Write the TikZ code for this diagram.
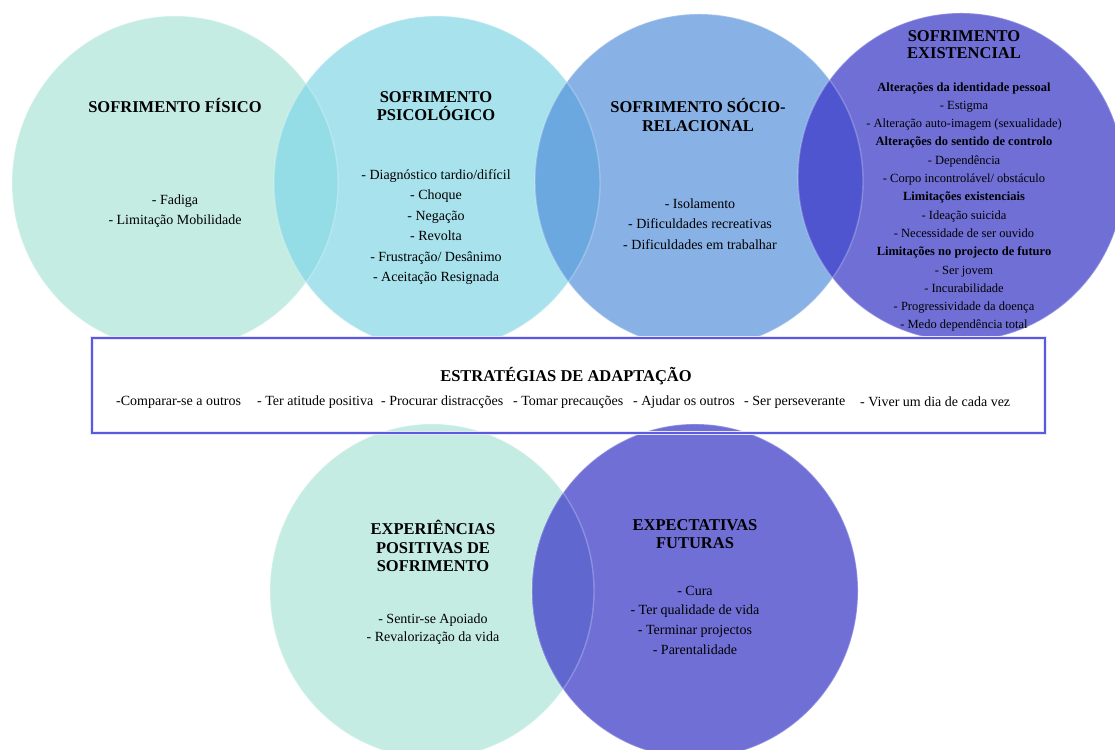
\documentclass[tikz,border=0pt]{standalone}
\usepackage{fontspec}
\setmainfont{Liberation Serif}
\usepackage{xcolor}
\usepackage{tikz}
\definecolor{mint}{RGB}{196,236,226}
\definecolor{aqua}{RGB}{168,226,236}
\definecolor{sky}{RGB}{136,177,230}
\definecolor{violet}{RGB}{111,111,214}
\definecolor{lensaqua}{RGB}{148,220,230}
\definecolor{lenssky}{RGB}{108,168,224}
\definecolor{lensviolet}{RGB}{79,85,207}
\definecolor{lensbottom}{RGB}{96,103,207}
\definecolor{boxline}{RGB}{90,90,225}

\tikzset{
  rim/.style={draw=white, draw opacity=0.25, line width=1.4pt},
  head/.style={font=\fontsize{16.5}{18.5}\selectfont\bfseries, align=center, inner sep=0pt},
  items/.style={font=\fontsize{14}{20.4}\selectfont, align=center, inner sep=0pt},
  smallitems/.style={font=\fontsize{12.5}{18.3}\selectfont, align=center, inner sep=0pt},
  strat/.style={font=\fontsize{14}{16}\selectfont, anchor=west, inner sep=0pt},
}

\begin{document}
\begin{tikzpicture}[x=1pt, y=1pt]
  \useasboundingbox (0,0) rectangle (1115,749);

  % upper row of bubbles
  \fill[mint]   (175,566) ellipse [x radius=163, y radius=167];
  \fill[aqua]   (437,566) ellipse [x radius=163, y radius=167];
  \fill[sky]    (699,568) ellipse [x radius=164, y radius=167];
  \fill[violet] (961,572) ellipse [x radius=163, y radius=164];
  % overlaps
  \begin{scope}
    \clip (175,566) ellipse [x radius=163, y radius=167];
    \fill[lensaqua] (437,566) ellipse [x radius=163, y radius=167];
  \end{scope}
  \begin{scope}
    \clip (437,566) ellipse [x radius=163, y radius=167];
    \fill[lenssky] (699,568) ellipse [x radius=164, y radius=167];
  \end{scope}
  \begin{scope}
    \clip (699,568) ellipse [x radius=164, y radius=167];
    \fill[lensviolet] (961,572) ellipse [x radius=163, y radius=164];
  \end{scope}
  \path[rim] (175,566) ellipse [x radius=163, y radius=167];
  \path[rim] (437,566) ellipse [x radius=163, y radius=167];
  \path[rim] (699,568) ellipse [x radius=164, y radius=167];
  \path[rim] (961,572) ellipse [x radius=163, y radius=164];

  % strategies box (fill first, border last)
  \fill[white] (92,411) rectangle (1045,316);

  % lower row of bubbles
  \fill[mint]   (432,158) ellipse [x radius=162, y radius=167];
  \fill[violet] (695,158) ellipse [x radius=163, y radius=167];
  \begin{scope}
    \clip (432,158) ellipse [x radius=162, y radius=167];
    \fill[lensbottom] (695,158) ellipse [x radius=163, y radius=167];
  \end{scope}
  \path[rim] (432,158) ellipse [x radius=162, y radius=167];
  \path[rim] (695,158) ellipse [x radius=163, y radius=167];

  \draw[boxline!15, line width=4pt] (92,411) rectangle (1045,316);
  \draw[boxline, line width=1.2pt] (92,411) rectangle (1045,316);

  % physical
  \node[head] (fisico) at (175,643) {SOFRIMENTO FÍSICO};
  \node[items] (fisicoitems) at (175,538) {- Fadiga\\- Limitação Mobilidade};

  % psychological
  \node[head] (psico) at (436,643) {SOFRIMENTO\\PSICOLÓGICO};
  \node[items] (psicoitems) at (436,522) {- Diagnóstico tardio/difícil\\- Choque\\- Negação\\- Revolta\\- Frustração/ Desânimo\\- Aceitação Resignada};

  % social
  \node[head] (socio) at (698,634) {SOFRIMENTO SÓCIO-\\RELACIONAL};
  \node[items] (socioitems) at (700,525) {- Isolamento\\- Dificuldades recreativas\\- Dificuldades em trabalhar};

  % existential
  \node[head, font=\fontsize{16.5}{17}\selectfont\bfseries] (exist) at (964,704) {SOFRIMENTO\\EXISTENCIAL};
  \node[smallitems] (existitems) at (964,542) {\textbf{Alterações da identidade pessoal}\\- Estigma\\- Alteração auto-imagem (sexualidade)\\\textbf{Alterações do sentido de controlo}\\- Dependência\\- Corpo incontrolável/ obstáculo\\\textbf{Limitações existenciais}\\- Ideação suicida\\- Necessidade de ser ouvido\\\textbf{Limitações no projecto de futuro}\\- Ser jovem\\- Incurabilidade\\- Progressividade da doença\\- Medo dependência total};

  % strategies
  \node[head] (estrategias) at (566,373) {ESTRATÉGIAS DE ADAPTAÇÃO};
  \node[strat] (s1) at (116,347) {-Comparar-se a outros};
  \node[strat] (s2) at (257,347) {- Ter atitude positiva};
  \node[strat] (s3) at (381,347) {- Procurar distracções};
  \node[strat] (s4) at (513,347) {- Tomar precauções};
  \node[strat] (s5) at (633,347) {- Ajudar os outros};
  \node[strat] (s6) at (744,347) {- Ser perseverante};
  \node[strat] (s7) at (860,347) {- Viver um dia de cada vez};

  % positive experiences
  \node[head] (positivas) at (433,203) {EXPERIÊNCIAS\\POSITIVAS DE\\SOFRIMENTO};
  \node[items, font=\fontsize{14}{18}\selectfont] (positivasitems) at (433,120) {- Sentir-se Apoiado\\- Revalorização da vida};

  % future
  \node[head] (futuras) at (695,215) {EXPECTATIVAS\\FUTURAS};
  \node[items, font=\fontsize{14}{19.7}\selectfont] (futurasitems) at (695,129) {- Cura\\- Ter qualidade de vida\\- Terminar projectos\\- Parentalidade};
\end{tikzpicture}
\end{document}
